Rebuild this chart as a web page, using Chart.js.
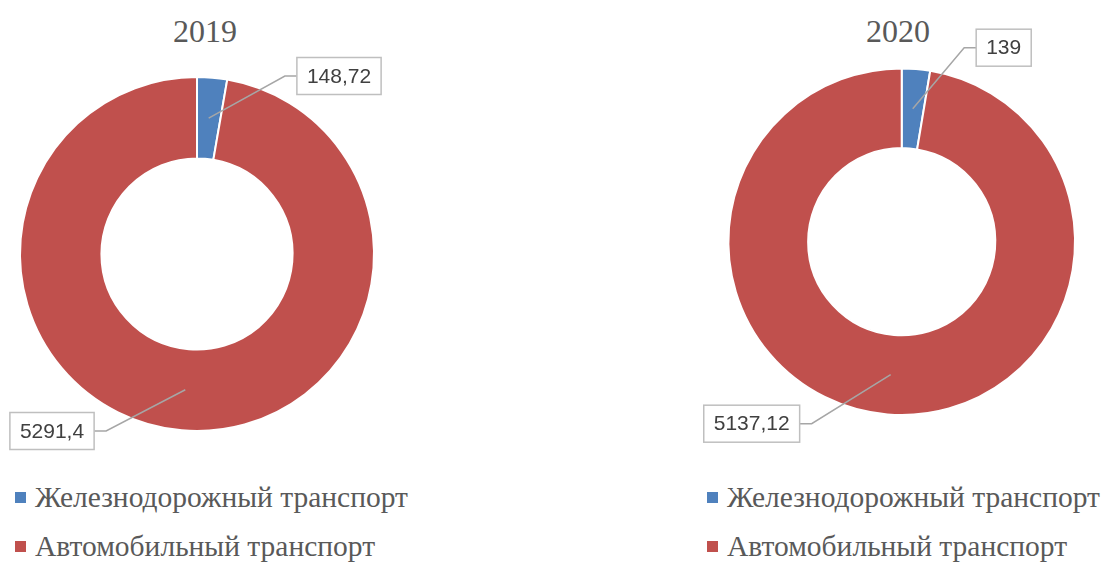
<!DOCTYPE html>
<html>
<head>
<meta charset="utf-8">
<script src="https://cdn.jsdelivr.net/npm/chart.js@4"></script>
<style>
  body { margin: 0; background: #fff; width: 1105px; height: 563px; overflow: hidden; position: relative; }
  canvas { position: absolute; top: 0; }
  #chart2019 { left: 0; }
  #chart2020 { left: 691px; }
  .chart-title { position: absolute; top: 12px; width: 200px; text-align: center; font: 32px "Liberation Serif", serif; line-height: 38px; color: #595959; }
  .legend-row { position: absolute; font: 29.5px "Liberation Serif", serif; line-height: 30px; color: #595959; white-space: nowrap; }
  .legend-box { position: absolute; width: 11px; height: 11px; }
</style>
</head>
<body>
<div class="chart-title" id="title2019" style="left:105px"></div>
<div class="chart-title" id="title2020" style="left:798px"></div>
<canvas id="chart2019" width="410" height="470"></canvas>
<canvas id="chart2020" width="414" height="470"></canvas>
<div id="legend"></div>
<script>
// Chart data
const categories = ["Железнодорожный транспорт", "Автомобильный транспорт"];
const years = ["2019", "2020"];
const values2019 = [148.72, 5291.4];
const values2020 = [139, 5137.12];
const colors = ["#4F81BD", "#C0504D"];

// number like 148,72
function fmt(v) {
  return String(v).replace(".", ",");
}

// Draws the value boxes with leader lines
const calloutPlugin = {
  id: "callouts",
  afterDatasetsDraw(chart, args, opts) {
    const ctx = chart.ctx;
    const meta = chart.getDatasetMeta(0);
    ctx.save();
    ctx.font = '21px "Liberation Sans", sans-serif';
    meta.data.forEach((arc, i) => {
      const p = arc.getProps(["x", "y", "startAngle", "endAngle", "innerRadius", "outerRadius"]);
      const mid = (p.startAngle + p.endAngle) / 2;
      const r = (p.innerRadius + p.outerRadius) / 2;
      const px = p.x + Math.cos(mid) * r;
      const py = p.y + Math.sin(mid) * r;
      const text = fmt(chart.data.datasets[0].data[i]);
      const w = ctx.measureText(text).width + 20;
      const h = 37;
      const [dx, dy] = opts.offsets[i];
      const bx = p.x + dx;
      const by = p.y + dy;
      const left = bx - w / 2;
      const right = bx + w / 2;
      const edge = dx > 0 ? left : right;
      const elbow = dx > 0 ? left - 12 : right + 12;

      // leader line
      ctx.strokeStyle = "#A6A6A6";
      ctx.lineWidth = 1.5;
      ctx.beginPath();
      ctx.moveTo(px, py);
      ctx.lineTo(elbow, by);
      ctx.lineTo(edge, by);
      ctx.stroke();

      // box
      ctx.fillStyle = "#fff";
      ctx.fillRect(left, by - h / 2, w, h);
      ctx.strokeStyle = "#BFBFBF";
      ctx.lineWidth = 1.5;
      ctx.strokeRect(left, by - h / 2, w, h);

      // value
      ctx.fillStyle = "#404040";
      ctx.textAlign = "center";
      ctx.textBaseline = "middle";
      ctx.fillText(text, bx, by + 1);
    });
    ctx.restore();
  }
};

function makeChart(id, title, values, padding, offsets) {
  document.getElementById("title" + title).textContent = title;
  return new Chart(document.getElementById(id), {
    type: "doughnut",
    data: {
      labels: categories,
      datasets: [
        {
          data: values,
          backgroundColor: colors,
          borderColor: "#fff",
          borderWidth: 2
        }
      ]
    },
    options: {
      responsive: false,
      animation: false,
      cutout: "54%",
      layout: { padding },
      plugins: {
        legend: { display: false },
        tooltip: { enabled: false },
        callouts: { offsets }
      }
    },
    plugins: [calloutPlugin]
  });
}

makeChart("chart2019", years[0], values2019,
  { left: 0, right: 16, top: 76, bottom: 38 },
  [[142, -178], [-145, 177]]);

makeChart("chart2020", years[1], values2020,
  { left: 17.4, right: 10, top: 67.4, bottom: 54 },
  [[102, -194], [-150, 182]]);

// Legend under each chart
const legend = document.getElementById("legend");
[[15, 35], [707, 727]].forEach(([boxX, textX]) => {
  categories.forEach((name, i) => {
    const box = document.createElement("div");
    box.className = "legend-box";
    box.style.left = boxX + "px";
    box.style.top = (492 + i * 48.5) + "px";
    box.style.background = colors[i];
    legend.appendChild(box);

    const row = document.createElement("div");
    row.className = "legend-row";
    row.style.left = textX + "px";
    row.style.top = (482 + i * 49) + "px";
    row.textContent = name;
    legend.appendChild(row);
  });
});
</script>
</body>
</html>
